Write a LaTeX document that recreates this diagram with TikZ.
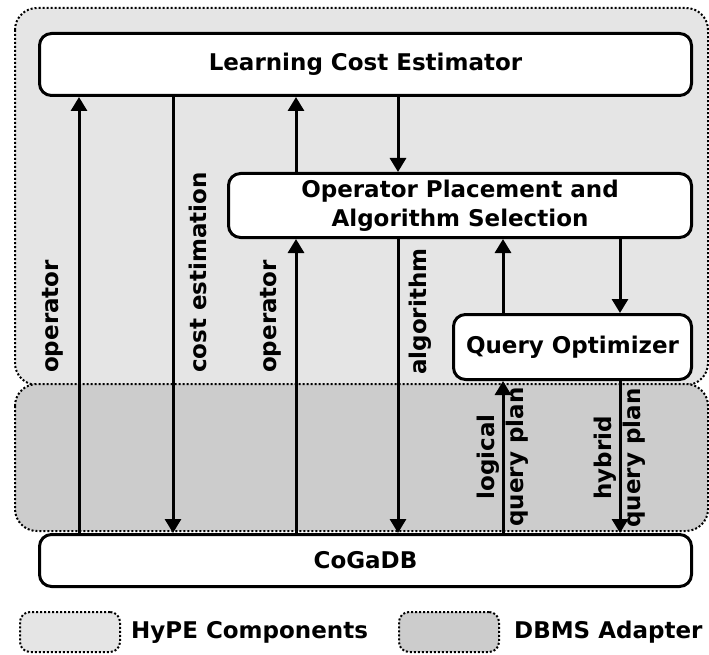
\documentclass[tikz,border=0pt]{standalone}
\usepackage{fontspec}
\setmainfont{DejaVu Sans}
\usetikzlibrary{arrows.meta,positioning}
\definecolor{hypefill}{gray}{0.9}
\definecolor{dbmsfill}{gray}{0.8}

\begin{document}
\begin{tikzpicture}[x=1pt,y=-1pt,
  font=\fontsize{23}{29}\selectfont\bfseries,
  comp/.style={draw,line width=3pt,rounded corners=12pt,fill=white,inner sep=0pt,align=center},
  area/.style={draw,line width=2pt,dash pattern=on 2pt off 2pt,rounded corners=22pt},
  flow/.style={line width=3pt,-{Triangle[width=16pt,length=14pt]}},
  tag/.style={rotate=90,inner sep=0pt}]
  \useasboundingbox (0,0) rectangle (709,655);
  % regions
  \draw[area,fill=hypefill] (15,8) rectangle (708,385);
  \draw[area,fill=dbmsfill] (15,384) rectangle (708,531);
  % components
  \node[comp,minimum width=652,minimum height=62] (lce) at (365.5,64.5) {Learning Cost Estimator};
  \node[comp,minimum width=463,minimum height=64] (opas) at (460,205.5)
    {Operator Placement and\\Algorithm Selection};
  \node[comp,minimum width=238,minimum height=65] (qo) at (572.5,347) {Query Optimizer};
  \node[comp,minimum width=652,minimum height=52] (cogadb) at (365.5,560.5) {CoGaDB};
  % columns
  \coordinate (c1) at (79,0);  \coordinate (c2) at (173,0);
  \coordinate (c3) at (296,0); \coordinate (c4) at (398,0);
  \coordinate (c5) at (503,0); \coordinate (c6) at (620,0);
  % connectors
  \draw[flow] (cogadb.north -| c1) -- (lce.south -| c1);
  \draw[flow] (lce.south -| c2) -- (cogadb.north -| c2);
  \draw[flow] (cogadb.north -| c3) -- (opas.south -| c3);
  \draw[flow] (opas.north -| c3) -- (lce.south -| c3);
  \draw[flow] (lce.south -| c4) -- (opas.north -| c4);
  \draw[flow] (opas.south -| c4) -- (cogadb.north -| c4);
  \draw[flow] (qo.north -| c5) -- (opas.south -| c5);
  \draw[flow] (cogadb.north -| c5) -- (qo.south -| c5);
  \draw[flow] (opas.south -| c6) -- (qo.north -| c6);
  \draw[flow] (qo.south -| c6) -- (cogadb.north -| c6);
  % labels
  \node[tag,anchor=west] (op1) at (53,373) {operator};
  \node[tag,anchor=west] (cost) at (198,373) {cost estimation};
  \node[tag,anchor=west] (op2) at (271,373) {operator};
  \node[tag,anchor=west] (algo) at (420,375) {algorithm};
  \node[tag,align=center] (lqp) at (503,457) {logical\\query plan};
  \node[tag,align=center] (hqp) at (620,458) {hybrid\\query plan};
  % legend
  \node[area,rounded corners=10pt,fill=hypefill,minimum width=100,minimum height=40] (key1) at (70,632) {};
  \node[anchor=west,inner sep=0pt] (txt1) at (131,632) {HyPE Components};
  \node[area,rounded corners=10pt,fill=dbmsfill,minimum width=100,minimum height=40] (key2) at (449,632) {};
  \node[anchor=west,inner sep=0pt] (txt2) at (514,632) {DBMS Adapter};
\end{tikzpicture}
\end{document}
